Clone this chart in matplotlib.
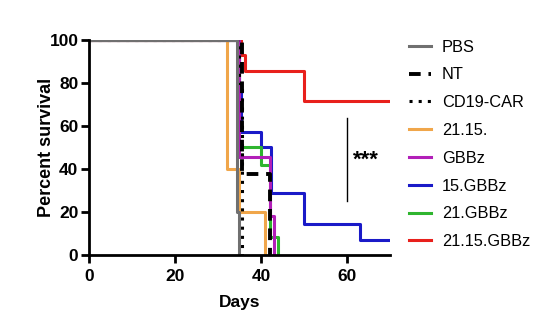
import matplotlib
matplotlib.use("Agg")
import matplotlib.pyplot as plt

plt.rcParams['font.family'] = ['Liberation Sans', 'DejaVu Sans']

# Kaplan-Meier step data (day, percent survival)
pbs_t = [0, 34.5, 35, 35]
pbs_s = [100, 20, 0, 0]
nt_t = [0, 35.5, 42.2, 42.2]
nt_s = [100, 37.5, 0, 0]
cd19_t = [0, 35, 35.5, 35.5]
cd19_s = [100, 80, 0, 0]
t2115_t = [0, 32, 35, 41, 41]
t2115_s = [100, 40, 20, 0, 0]
gbbz_t = [0, 35, 42, 43, 43]
gbbz_s = [100, 45.5, 18.2, 0, 0]
g15_t = [0, 35, 35.3, 40, 42.3, 50, 63, 70]
g15_s = [100, 78.6, 57.1, 50, 28.6, 14.3, 7.1, 7.1]
g21_t = [0, 35, 40, 42.2, 44, 44]
g21_s = [100, 50, 41.7, 8.3, 0, 0]
g2115_t = [0, 35.3, 36.3, 50, 70]
g2115_s = [100, 92.9, 85.7, 71.4, 71.4]

fig = plt.figure(figsize=(5.35, 3.12), dpi=100)
ax = fig.add_axes([0.166, 0.183, 0.563, 0.689])

lw = 2.2
ax.plot(g2115_t, g2115_s, drawstyle='steps-post', color='#e8201c', lw=lw)
ax.plot(g15_t, g15_s, drawstyle='steps-post', color='#1a1ac8', lw=lw)
ax.plot(g21_t, g21_s, drawstyle='steps-post', color='#2fb52f', lw=lw)
ax.plot(gbbz_t, gbbz_s, drawstyle='steps-post', color='#b21fb8', lw=lw)
ax.plot(t2115_t, t2115_s, drawstyle='steps-post', color='#f0a64a', lw=lw)
ax.plot(nt_t, nt_s, drawstyle='steps-post', color='black', lw=2.8, ls=(0, (3, 2)))
ax.plot(cd19_t, cd19_s, drawstyle='steps-post', color='black', lw=2.2, ls=(0, (1, 2)))
ax.plot(pbs_t, pbs_s, drawstyle='steps-post', color='#707070', lw=lw)

# legend handles in the original order
handles = [
    plt.Line2D([], [], color='#707070', lw=lw, label='PBS'),
    plt.Line2D([], [], color='black', lw=2.8, ls=(0, (3, 2)), label='NT'),
    plt.Line2D([], [], color='black', lw=2.2, ls=(0, (1, 2)), label='CD19-CAR'),
    plt.Line2D([], [], color='#f0a64a', lw=lw, label='21.15.'),
    plt.Line2D([], [], color='#b21fb8', lw=lw, label='GBBz'),
    plt.Line2D([], [], color='#1a1ac8', lw=lw, label='15.GBBz'),
    plt.Line2D([], [], color='#2fb52f', lw=lw, label='21.GBBz'),
    plt.Line2D([], [], color='#e8201c', lw=lw, label='21.15.GBBz'),
]
ax.legend(handles=handles, loc='upper left', bbox_to_anchor=(1.015, 1.07),
          frameon=False, fontsize=11.8, handlelength=1.3, handletextpad=0.7,
          labelspacing=0.78)

# significance bar
ax.plot([60, 60], [25, 63.5], color='black', lw=1)
ax.text(61.3, 44, '***', fontsize=16, fontweight='bold', va='center', ha='left')

ax.set_xlim(0, 70)
ax.set_ylim(0, 100)
ax.set_xticks([0, 20, 40, 60])
ax.set_yticks([0, 20, 40, 60, 80, 100])
for sp in ['top', 'right']:
    ax.spines[sp].set_visible(False)
for sp in ['left', 'bottom']:
    ax.spines[sp].set_linewidth(2)
ax.tick_params(width=2, length=6, labelsize=12.5)
ax.tick_params(axis='x', pad=4)
ax.tick_params(axis='y', pad=1.5)
for lab in ax.get_xticklabels() + ax.get_yticklabels():
    lab.set_fontweight('bold')
ax.set_xlabel('Days', fontsize=12.5, fontweight='bold', labelpad=8)
ax.set_ylabel('Percent survival', fontsize=13, fontweight='bold')
ax.yaxis.set_label_coords(-0.112, 0.5)

fig.savefig('out.png', dpi=100)
